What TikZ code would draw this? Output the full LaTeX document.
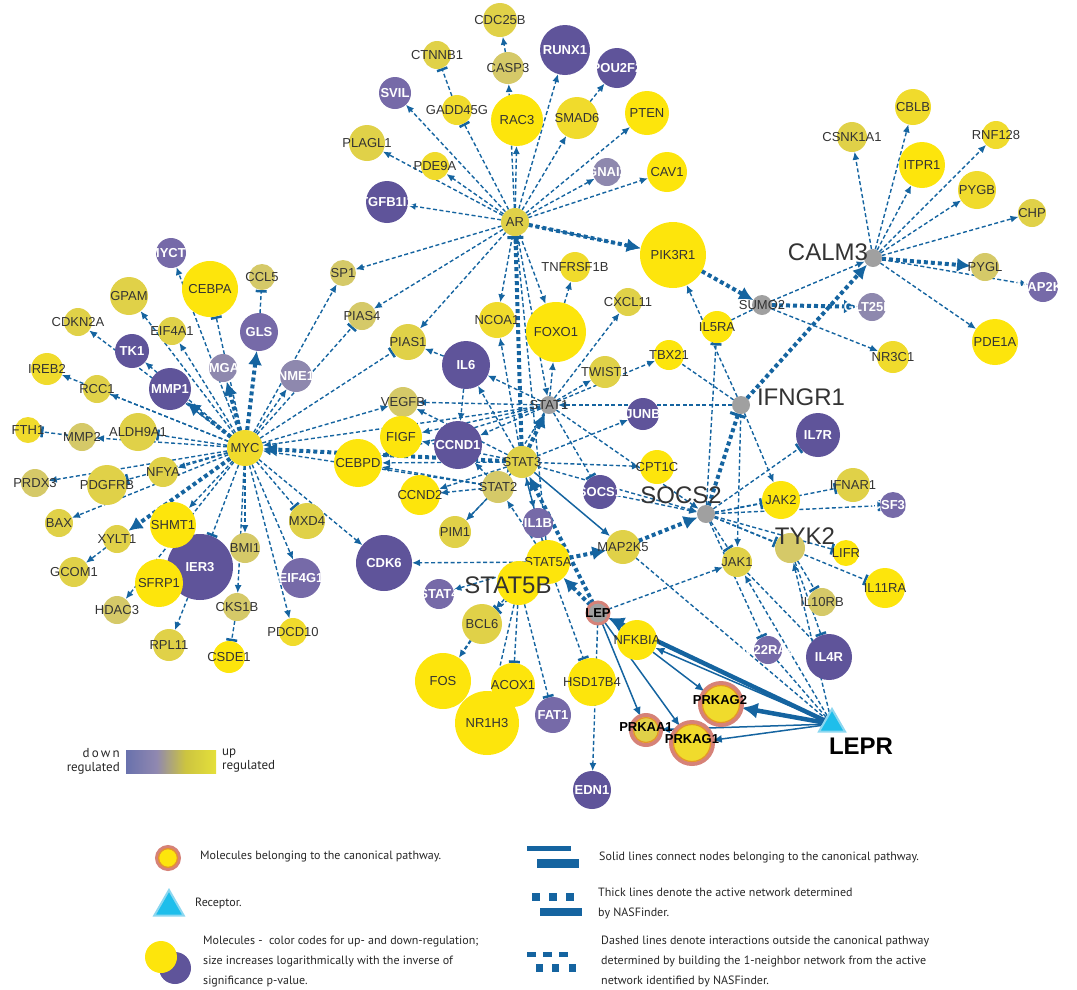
\documentclass[tikz,border=0pt]{standalone}
\usepackage{fontspec}
\setmainfont{Liberation Sans}
\newfontfamily\legf{PT Sans}
\usetikzlibrary{arrows.meta,backgrounds,shapes.geometric}
\definecolor{cY1}{RGB}{253,229,12}
\definecolor{cY2}{RGB}{240,219,44}
\definecolor{cY3}{RGB}{224,209,72}
\definecolor{cK}{RGB}{213,201,104}
\definecolor{cP1}{RGB}{95,84,154}
\definecolor{cP2}{RGB}{118,106,168}
\definecolor{cP3}{RGB}{142,136,174}
\definecolor{cG}{RGB}{160,160,160}
\definecolor{labd}{RGB}{51,51,51}
\definecolor{ecol}{RGB}{21,100,160}
\definecolor{ringc}{RGB}{214,130,120}
\definecolor{ringin}{RGB}{230,150,40}
\definecolor{cyanC}{RGB}{30,190,235}
\definecolor{cyanL}{RGB}{140,215,240}
\definecolor{gb1}{RGB}{48,80,168}
\definecolor{gb2}{RGB}{144,136,176}
\definecolor{gb3}{RGB}{204,196,64}
\definecolor{gb4}{RGB}{236,232,56}
\pgfdeclarehorizontalshading{regbar}{100bp}{color(0bp)=(gb1); color(42bp)=(gb2); color(58bp)=(gb3); color(80bp)=(gb4); color(100bp)=(gb4)}
\tikzset{
 mol/.style={circle,inner sep=0pt,outer sep=0pt,draw=none},
 dl/.style={font=\fontsize{13}{13}\selectfont,text=labd,inner sep=0pt},
 wl/.style={font=\bfseries\fontsize{13}{13}\selectfont,text=white,inner sep=0pt},
 bl/.style={font=\bfseries\fontsize{13}{13}\selectfont,text=black,inner sep=0pt},
 biglab/.style={font=\fontsize{24}{24}\selectfont,text=labd,inner sep=0pt},
 legt/.style={font=\legf\fontsize{12}{20}\selectfont,text=black!85,inner sep=0pt},
 ar/.style={draw=ecol,line width=1.4pt,dash pattern=on 4pt off 2.5pt,-{Latex[length=8pt,width=7pt]}},
 inh/.style={draw=ecol,line width=1.4pt,dash pattern=on 4pt off 2.5pt,-{Bar[width=11pt,line width=2.5pt]}},
 dsh/.style={draw=ecol,line width=1.4pt,dash pattern=on 4pt off 2.5pt},
 tar/.style={draw=ecol,line width=4pt,dash pattern=on 4pt off 3pt,-{Latex[length=14pt,width=14pt]}},
 tinh/.style={draw=ecol,line width=4pt,dash pattern=on 4pt off 3pt,-{Bar[width=16pt,line width=3pt]}},
 sar/.style={draw=ecol,line width=1.5pt,-{Latex[length=9pt,width=8pt]}},
 star/.style={draw=ecol,line width=4.5pt,-{Latex[length=16pt,width=16pt]}},
}
\newcommand\mol[6]{\node[mol,minimum size=#4*2pt,fill=#5,label={[#6]center:#1}] (#1) at (#2,#3) {};}
\newcommand\gmol[5]{\node[mol,minimum size=#4*2pt,fill=#5] (#1) at (#2,#3) {};}
\begin{document}
\begin{tikzpicture}[x=1pt,y=-1pt]
\useasboundingbox (0,0) rectangle (1077,989);
% ---------- AR cluster
\mol{AR}{515}{222}{14}{cY3}{dl}
\mol{CDC25B}{500}{20}{17}{cY3}{dl}
\mol{CTNNB1}{437}{55}{14}{cY3}{dl}
\mol{CASP3}{508}{68}{16}{cK}{dl}
\mol{RUNX1}{565}{50}{25}{cP1}{wl}
\mol{POU2F2}{617}{68}{20}{cP1}{wl}
\mol{SVIL}{395}{93}{16}{cP2}{wl}
\mol{GADD45G}{457}{110}{15}{cY2}{dl}
\mol{RAC3}{517}{120}{26}{cY1}{dl}
\mol{SMAD6}{577}{118}{21}{cY2}{dl}
\mol{PTEN}{647}{113}{22}{cY1}{dl}
\mol{PLAGL1}{367}{143}{18}{cY3}{dl}
\mol{PDE9A}{435}{166}{14}{cY2}{dl}
\mol{GNAI2}{607}{172}{14}{cP3}{wl}
\mol{CAV1}{667}{172}{20}{cY1}{dl}
\mol{TGFB1I1}{387}{202}{21}{cP1}{wl}
\mol{PIK3R1}{673}{255}{33}{cY1}{dl}
% ---------- MYC cluster
\mol{MYC}{245}{448}{18}{cY2}{dl}
\mol{MYCT1}{171}{253}{15}{cP2}{wl}
\mol{CEBPA}{210}{289}{28}{cY1}{dl}
\mol{CCL5}{262}{277}{13}{cK}{dl}
\mol{GPAM}{129}{296}{19}{cY3}{dl}
\mol{CDKN2A}{78}{322}{14}{cY3}{dl}
\mol{EIF4A1}{172}{331}{14}{cY3}{dl}
\mol{GLS}{259}{332}{19}{cP2}{wl}
\mol{TK1}{132}{351}{17}{cP1}{wl}
\mol{HMGA1}{223}{368}{14}{cP3}{wl}
\mol{NME1}{296}{376}{16}{cP3}{wl}
\mol{IREB2}{47}{369}{16}{cY2}{dl}
\mol{RCC1}{97}{389}{14}{cY3}{dl}
\mol{MMP1}{170}{389}{21}{cP1}{wl}
\mol{FTH1}{28}{430}{13}{cY2}{dl}
\mol{MMP2}{82}{437}{14}{cK}{dl}
\mol{ALDH9A1}{138}{432}{19}{cY3}{dl}
\mol{PRDX3}{35}{483}{14}{cK}{dl}
\mol{NFYA}{163}{472}{15}{cY3}{dl}
\mol{PDGFRB}{107}{485}{20}{cY3}{dl}
\mol{BAX}{59}{523}{14}{cY3}{dl}
\mol{XYLT1}{117}{539}{14}{cY3}{dl}
\mol{IER3}{200}{567}{33}{cP1}{wl}
\mol{SHMT1}{173}{525}{23}{cY1}{dl}
\mol{BMI1}{245}{548}{15}{cK}{dl}
\mol{MXD4}{307}{521}{18}{cY3}{dl}
\mol{GCOM1}{74}{572}{15}{cY3}{dl}
\mol{SFRP1}{159}{583}{24}{cY1}{dl}
\mol{EIF4G1}{301}{578}{20}{cP2}{wl}
\mol{HDAC3}{117}{610}{14}{cK}{dl}
\mol{CKS1B}{237}{607}{14}{cK}{dl}
\mol{PDCD10}{293}{632}{14}{cY2}{dl}
\mol{RPL11}{169}{645}{16}{cY3}{dl}
\mol{CSDE1}{229}{657}{16}{cY1}{dl}
% ---------- centre
\mol{SP1}{343}{273}{13}{cK}{dl}
\mol{PIAS4}{362}{316}{14}{cK}{dl}
\mol{PIAS1}{408}{342}{18}{cY3}{dl}
\mol{IL6}{466}{365}{24}{cP1}{wl}
\mol{NCOA1}{497}{320}{18}{cY2}{dl}
\mol{FOXO1}{556}{332}{30}{cY1}{dl}
\mol{TNFRSF1B}{575}{267}{15}{cY2}{dl}
\mol{CXCL11}{628}{302}{14}{cY3}{dl}
\mol{TBX21}{669}{355}{15}{cY1}{dl}
\mol{TWIST1}{605}{372}{16}{cY3}{dl}
\mol{STAT1}{549}{405}{9}{cG}{dl}
\mol{JUNB}{643}{414}{16}{cP1}{wl}
\mol{VEGFB}{403}{402}{15}{cK}{dl}
\mol{FIGF}{401}{437}{21}{cY1}{dl}
\mol{CCND1}{458}{445}{24}{cP1}{wl}
\mol{CEBPD}{358}{463}{24}{cY1}{dl}
\mol{STAT3}{522}{462}{16}{cY3}{dl}
\mol{CPT1C}{657}{467}{17}{cY1}{dl}
\mol{STAT2}{498}{487}{16}{cK}{dl}
\mol{CCND2}{420}{495}{20}{cY1}{dl}
\mol{SOCS1}{600}{492}{17}{cP1}{wl}
\mol{IL1B}{538}{523}{15}{cP2}{wl}
\mol{PIM1}{455}{532}{16}{cY3}{dl}
\mol{MAP2K5}{623}{547}{17}{cY3}{dl}
\mol{CDK6}{384}{563}{28}{cP1}{wl}
\mol{STAT4}{439}{594}{15}{cP2}{wl}
\mol{STAT5A}{548}{562}{22}{cY1}{dl}
\gmol{STAT5B}{519}{583}{22}{cY1}
\node[biglab] (STAT5Bt) at (508,585) {STAT5B};
\mol{BCL6}{482}{624}{20}{cY3}{dl}
\mol{FOS}{443}{681}{28}{cY1}{dl}
\mol{ACOX1}{513}{685}{22}{cY1}{dl}
\mol{NR1H3}{487}{723}{32}{cY1}{dl}
\mol{HSD17B4}{592}{682}{24}{cY1}{dl}
\mol{FAT1}{553}{715}{18}{cP2}{wl}
\mol{EDN1}{592}{790}{19}{cP1}{wl}
\mol{NFKBIA}{637}{640}{20}{cY1}{dl}
% ---------- canonical ring nodes
\node[mol,minimum size=22pt,fill=cG,draw=ringc,line width=3pt,label={[bl]center:LEP}] (LEP) at (598,613) {};
\node[mol,minimum size=30pt,fill=cY3,draw=ringc,line width=4pt] (PRKAA1) at (646,730) {};
\draw[ringin,line width=1.2pt] (PRKAA1.center) circle (12.5pt);
\node[bl] (PRKAA1t) at (646,727) {PRKAA1};
\node[mol,minimum size=42pt,fill=cY2,draw=ringc,line width=4pt] (PRKAG1) at (692,743) {};
\draw[ringin,line width=1.2pt] (PRKAG1.center) circle (18.5pt);
\node[bl] (PRKAG1t) at (692,739) {PRKAG1};
\node[mol,minimum size=42pt,fill=cY2,draw=ringc,line width=4pt] (PRKAG2) at (721,704) {};
\draw[ringin,line width=1.2pt] (PRKAG2.center) circle (18.5pt);
\node[bl] (PRKAG2t) at (720,700) {PRKAG2};
% ---------- right side
\gmol{IFNGR1}{741}{405}{9}{cG}
\node[biglab] (IFNGR1t) at (801,397) {IFNGR1};
\mol{IL7R}{818}{435}{22}{cP1}{wl}
\mol{JAK2}{781}{500}{19}{cY1}{dl}
\mol{IFNAR1}{853}{485}{17}{cY3}{dl}
\mol{CSF3R}{893}{505}{13}{cP2}{wl}
\gmol{SOCS2}{706}{514}{9}{cG}
\node[biglab] (SOCS2t) at (681,495) {SOCS2};
\gmol{TYK2}{790}{548}{15}{cK}
\node[biglab] (TYK2t) at (805,536) {TYK2};
\mol{LIFR}{846}{553}{13}{cY1}{dl}
\mol{JAK1}{737}{562}{15}{cY3}{dl}
\mol{IL11RA}{885}{588}{20}{cY1}{dl}
\mol{IL10RB}{822}{602}{14}{cK}{dl}
\mol{IL22RA2}{768}{650}{14}{cP2}{wl}
\mol{IL4R}{829}{657}{23}{cP1}{wl}
% ---------- CALM3 cluster
\gmol{CALM3}{873}{258}{9}{cG}
\node[biglab] (CALM3t) at (828,252) {CALM3};
\mol{CSNK1A1}{852}{137}{15}{cY3}{dl}
\mol{CBLB}{913}{107}{18}{cY2}{dl}
\mol{RNF128}{996}{135}{14}{cY2}{dl}
\mol{ITPR1}{922}{165}{23}{cY1}{dl}
\mol{PYGB}{977}{190}{19}{cY2}{dl}
\mol{CHP}{1032}{213}{14}{cY3}{dl}
\mol{PYGL}{985}{267}{14}{cK}{dl}
\mol{MAP2K3}{1043}{287}{15}{cP2}{wl}
\mol{SUMO2}{762}{305}{10}{cG}{dl}
\mol{GLT25D1}{872}{307}{14}{cP3}{wl}
\mol{IL5RA}{717}{327}{16}{cY1}{dl}
\mol{NR3C1}{893}{357}{16}{cY2}{dl}
\mol{PDE1A}{995}{342}{23}{cY1}{dl}
% ---------- receptor
\node[regular polygon,regular polygon sides=3,fill=cyanC,draw=cyanL,line width=2pt,minimum size=30pt,inner sep=0pt] (LEPR) at (832,724) {};
\node[font=\bfseries\fontsize{24}{24}\selectfont,inner sep=0pt] (LEPRt) at (861,746) {LEPR};
% ---------- edges
\begin{pgfonlayer}{background}
\foreach \t in {SVIL,PLAGL1,PDE9A,TGFB1I1,RAC3,CASP3,RUNX1,SMAD6,PTEN,GNAI2,CAV1,PIK3R1,SP1,PIAS4,PIAS1,NCOA1,FOXO1,STAT1} \draw[ar] (AR) -- (\t);
\draw[inh] (AR) -- (GADD45G);
\draw[inh] (GADD45G) -- (CTNNB1);
\draw[ar] (CASP3) -- (CDC25B);
\draw[ar] (SMAD6) -- (POU2F2);
\draw[ar] (FOXO1) -- (TNFRSF1B);
\draw[tar] (AR) -- (PIK3R1);
\draw[tinh] (STAT3) -- (AR);
\draw[ar] (STAT5A) -- (AR);
% MYC
\foreach \t in {MYCT1,GPAM,CDKN2A,TK1,EIF4A1,NME1,IREB2,RCC1,MMP2,SP1,VEGFB,PRDX3,NFYA,BAX,SHMT1,BMI1,CKS1B,PDCD10,EIF4G1,CDK6,HDAC3} \draw[ar] (MYC) -- (\t);
\foreach \t in {CEBPA,ALDH9A1,PIAS4,PIAS1,PDGFRB,IER3,MXD4} \draw[inh] (MYC) -- (\t);
\foreach \t in {GLS,HMGA1,MMP1,XYLT1} \draw[tar] (MYC) -- (\t);
\draw[inh] (GLS) -- (CCL5);
\draw[inh] (MMP2) -- (FTH1);
\draw[ar] (XYLT1) -- (GCOM1);
\draw[ar] (IER3) -- (RPL11);
\draw[inh] (CKS1B) -- (CSDE1);
\draw[tar] (STAT3) -- (MYC);
\draw[ar] (STAT1) -- (MYC);
\draw[ar] (STAT2) -- (MYC);
% STATs
\foreach \t in {VEGFB,FIGF,IL6,FOXO1,CXCL11,TWIST1,TBX21,CCND1,CEBPD,STAT2} \draw[ar] (STAT1) -- (\t);
\draw[inh] (STAT1) -- (SOCS1);
\draw[ar] (IL6) -- (PIAS1);
\draw[ar] (IL6) -- (CCND1);
\foreach \t in {NCOA1,JUNB,CPT1C,CCND2,PIM1,IL1B,FIGF,VEGFB,IL6,CEBPD} \draw[ar] (STAT3) -- (\t);
\draw[tar] (STAT3) -- (STAT1);
\foreach \t in {CCND2,PIM1,CEBPD,CCND1} \draw[ar] (STAT2) -- (\t);
\foreach \t in {STAT4,CDK6,STAT3,STAT2,IL1B} \draw[ar] (STAT5A) -- (\t);
\draw[ar] (STAT5B) -- (BCL6);
\draw[ar] (STAT5B) -- (NR1H3);
\draw[inh] (STAT5B) -- (ACOX1);
\draw[inh] (STAT5B) -- (FAT1);
\draw[inh] (STAT5A) -- (HSD17B4);
\draw[inh] (STAT5A) -- (BCL6);
\draw[ar,line width=2.2pt] (BCL6) -- (FOS);
\draw[tar] (STAT5A) -- (MAP2K5);
\draw[tar] (MAP2K5) -- (SOCS2);
\draw[tinh] (SOCS2) -- (IFNGR1);
\draw[tar] (IFNGR1) -- (CALM3);
\draw[tar] (CALM3) -- (PYGL);
\draw[tar] (PIK3R1) -- (SUMO2);
\draw[tar] (SUMO2) -- (GLT25D1);
\draw[tar] (LEP) -- (STAT5A);
\draw[tar] (LEP) -- (STAT3);
\draw[sar] (STAT3) -- (MAP2K5);
\draw[ar] (LEP) -- (JAK1);
\draw[ar] (LEP) -- (EDN1);
\draw[dsh] (MAP2K5) -- (LEPR);
\foreach \t in {STAT1,STAT3,SOCS1} \draw[ar] (\t) -- (SOCS2);
\draw[ar] (IFNGR1) -- (STAT1);
\draw[ar] (IFNGR1) -- (JAK2);
\draw[ar] (IFNGR1) -- (JAK1);
\draw[ar] (IFNGR1) -- (PIK3R1);
\draw[dsh] (IFNGR1) -- (TBX21);
\foreach \t in {JAK2,IFNAR1,CSF3R,TYK2,LIFR,IL11RA,JAK1,IL7R,IL22RA2,IL5RA} \draw[inh] (SOCS2) -- (\t);
\draw[inh] (TYK2) -- (IL10RB);
\draw[inh] (TYK2) -- (IL4R);
\draw[ar] (LEPR) -- (TYK2);
\draw[ar] (LEPR) -- (JAK1);
\draw[dsh] (JAK1) -- (IL4R);
\draw[dsh] (LEPR) -- (IL22RA2);
\draw[ar] (SUMO2) -- (CALM3);
\draw[dsh] (IL5RA) -- (SUMO2);
\draw[ar] (SUMO2) -- (NR3C1);
\foreach \t in {CSNK1A1,CBLB,RNF128,ITPR1,PYGB,CHP,PDE1A,MAP2K3} \draw[ar] (CALM3) -- (\t);
% solid canonical
\draw[star] (LEPR) -- (LEP);
\draw[sar] (LEPR) -- (NFKBIA);
\draw[star] (LEPR) -- (PRKAG2);
\draw[sar] (LEPR) -- (PRKAG1);
\draw[sar] (LEPR) -- (PRKAA1);
\draw[sar] (LEP) -- (PRKAA1);
\draw[sar] (LEP) -- (PRKAG1);
\draw[sar] (NFKBIA) -- (PRKAG2);
\end{pgfonlayer}
% ---------- colour bar legend
\shade[shading=regbar] (126,750) rectangle (216,773);
\node[legt,anchor=east,align=right,font=\legf\fontsize{13}{14}\selectfont] (downt) at (120,761) {d\,o\,w\,n\\regulated};
\node[legt,anchor=west,align=left,font=\legf\fontsize{13}{14}\selectfont] (upt) at (222,761) {up\\regulated};
% ---------- bottom legend
\node[mol,minimum size=22pt,fill=cY1,draw=ringc,line width=4pt] (lg1) at (168,858) {};
\draw[ringin,line width=1.2pt] (lg1.center) circle (9.5pt);
\node[legt,anchor=west] (lg1t) at (200,857) {Molecules belonging to the canonical pathway.};
\node[regular polygon,regular polygon sides=3,fill=cyanC,draw=cyanL,line width=2pt,minimum size=34pt,inner sep=0pt] (lg2) at (169,907) {};
\node[legt,anchor=west] (lg2t) at (195,903) {Receptor.};
\node[mol,minimum size=32pt,fill=cP1] (lg3b) at (175,968) {};
\node[mol,minimum size=32pt,fill=cY1] (lg3a) at (161,957) {};
\node[legt,anchor=west,align=left] (lg3t) at (203,962) {Molecules -\ \ color codes for up- and down-regulation;\\size increases logarithmically with the inverse of\\significance p-value.};
\fill[ecol] (527,846) rectangle (571,851);
\fill[ecol] (537,859) rectangle (579,868);
\node[legt,anchor=west] (lg4t) at (599,857) {Solid lines connect nodes belonging to the canonical pathway.};
\fill[ecol] (532,893) rectangle (540,901);
\fill[ecol] (549,893) rectangle (557,901);
\fill[ecol] (566,893) rectangle (574,901);
\fill[ecol] (540,908) rectangle (582,916);
\node[legt,anchor=west,align=left] (lg5t) at (598,903) {Thick lines denote the active network determined\\by NASFinder.};
\fill[ecol] (527,952) rectangle (536,957);
\fill[ecol] (543,952) rectangle (552,957);
\fill[ecol] (559,952) rectangle (568,957);
\fill[ecol] (536,964) rectangle (543,972);
\fill[ecol] (552,964) rectangle (559,972);
\fill[ecol] (569,964) rectangle (576,972);
\node[legt,anchor=west,align=left] (lg6t) at (601,961) {Dashed lines denote interactions outside the canonical pathway\\determined by building the 1-neighbor network from the active\\network identified by NASFinder.};
\end{tikzpicture}
\end{document}
